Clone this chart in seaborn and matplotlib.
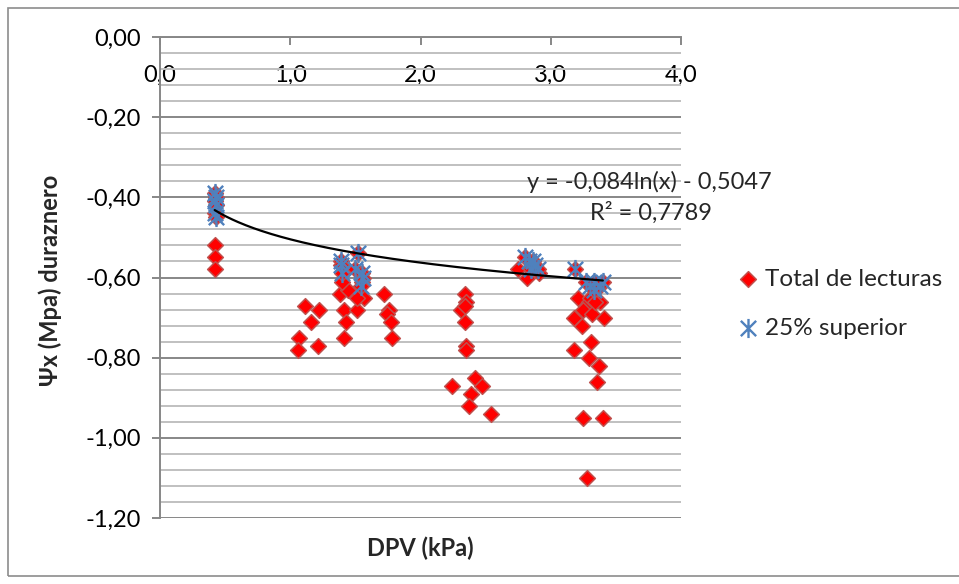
import numpy as np
import pandas as pd
import matplotlib
matplotlib.use("Agg")
import matplotlib.pyplot as plt
from matplotlib.path import Path
from matplotlib.patches import Rectangle
from matplotlib.ticker import MultipleLocator, FuncFormatter
import seaborn as sns

# --- data -------------------------------------------------------------
# upper 25 % of readings (stars)
sup_x = [0.42, 0.43, 0.42, 0.43, 0.42, 0.43,
         1.39, 1.39, 1.40, 1.50, 1.52, 1.55, 1.56, 1.54,
         2.80, 2.83, 2.86, 2.88, 2.85, 2.90,
         3.19, 3.27, 3.30, 3.33, 3.33, 3.38, 3.40]
sup_y = [-0.39, -0.40, -0.41, -0.42, -0.44, -0.45,
         -0.56, -0.57, -0.59, -0.58, -0.54, -0.59, -0.60, -0.62,
         -0.55, -0.56, -0.56, -0.57, -0.58, -0.58,
         -0.58, -0.61, -0.62, -0.61, -0.63, -0.62, -0.61]

# remaining readings (diamonds); all readings = these + the upper 25 %
rest_x = [0.42, 0.42, 0.42,
          1.11, 1.22, 1.16, 1.07, 1.06, 1.21,
          1.385, 1.44, 1.415, 1.51, 1.425, 1.415, 1.57, 1.515, 1.40, 1.55,
          1.72, 1.755, 1.74, 1.775, 1.785,
          2.34, 2.35, 2.31, 2.34, 2.34, 2.35, 2.35, 2.24, 2.415, 2.47, 2.39, 2.37, 2.545,
          2.75, 2.82, 2.91,
          3.21, 3.29, 3.38, 3.25, 3.32, 3.18, 3.41, 3.24, 3.31, 3.18, 3.29, 3.37,
          3.355, 3.25, 3.40, 3.28, 3.30, 3.34]
rest_y = [-0.52, -0.55, -0.58,
          -0.67, -0.68, -0.71, -0.75, -0.78, -0.77,
          -0.64, -0.63, -0.68, -0.68, -0.71, -0.75, -0.65, -0.65, -0.61, -0.61,
          -0.64, -0.68, -0.69, -0.71, -0.75,
          -0.64, -0.66, -0.68, -0.67, -0.71, -0.77, -0.78, -0.87, -0.85, -0.87, -0.89, -0.92, -0.94,
          -0.58, -0.60, -0.59,
          -0.65, -0.66, -0.66, -0.68, -0.69, -0.70, -0.70, -0.72, -0.76, -0.78, -0.80, -0.82,
          -0.86, -0.95, -0.95, -1.10, -0.65, -0.66]

# logarithmic trend fitted on the upper 25 %
trend_a = -0.084
trend_b = -0.5047
trend_r2 = 0.7789

series_names = ["Total de lecturas", "25% superior"]
x_label = "DPV (kPa)"
y_label = "\u03a8x (Mpa) duraznero"

# --- style ------------------------------------------------------------
sns.set_theme(style="white")
plt.rcParams["font.family"] = ["Lato", "DejaVu Sans"]
plt.rcParams["axes.unicode_minus"] = False

RED = "#FF0000"
RED_EDGE = "#C0504D"
BLUE = "#4F81BD"
GRID_MAJOR = "#878787"
GRID_MINOR = "#C0C0C0"

W, H = 959, 584
fig = plt.figure(figsize=(W / 100, H / 100), dpi=100)
ax = fig.add_axes([160 / W, 1 - 518 / H, (681 - 160) / W, (518 - 37) / H])

total = pd.DataFrame({"x": rest_x + sup_x, "y": rest_y + sup_y})
upper = pd.DataFrame({"x": sup_x, "y": sup_y})

# asterisk marker: an X crossed by a vertical stroke
star = Path([(-1, -1), (1, 1), (-1, 1), (1, -1), (0, -1.25), (0, 1.25)],
            [Path.MOVETO, Path.LINETO] * 3)

sns.scatterplot(data=total, x="x", y="y", ax=ax, marker="D", s=64,
                color=RED, edgecolor=RED_EDGE, linewidth=1.1,
                label=series_names[0], zorder=3)
sns.scatterplot(data=upper, x="x", y="y", ax=ax, marker=star, s=190,
                color=BLUE, edgecolor=BLUE, linewidth=1.7,
                label=series_names[1], zorder=4)

xs = np.linspace(min(sup_x), max(sup_x), 200)
trend = pd.DataFrame({"x": xs, "y": trend_a * np.log(xs) + trend_b})
sns.lineplot(data=trend, x="x", y="y", ax=ax, color="black", linewidth=1.6,
             zorder=5, legend=False)

# --- axes -------------------------------------------------------------
ax.set_xlim(0, 4)
ax.set_ylim(-1.2, 0)
ax.xaxis.set_major_locator(MultipleLocator(1.0))
ax.yaxis.set_major_locator(MultipleLocator(0.2))
ax.yaxis.set_minor_locator(MultipleLocator(0.04))
ax.xaxis.set_major_formatter(FuncFormatter(lambda v, p: f"{v:.1f}".replace(".", ",")))
ax.yaxis.set_major_formatter(FuncFormatter(
    lambda v, p: f"{v:.2f}".replace(".", ",").replace("-0,00", "0,00")))

ax.grid(False)
ax.yaxis.grid(True, which="major", color=GRID_MAJOR, linewidth=1.4, zorder=0)
ax.yaxis.grid(True, which="minor", color=GRID_MINOR, linewidth=1.4, zorder=0)
ax.set_axisbelow(True)

for side in ("right", "bottom"):
    ax.spines[side].set_visible(False)
for side in ("left", "top"):
    ax.spines[side].set_color(GRID_MAJOR)
    ax.spines[side].set_linewidth(1.4)

ax.xaxis.tick_top()
ax.tick_params(axis="x", which="major", top=True, bottom=False, labeltop=True,
               labelbottom=False, direction="in", length=6, width=1.4,
               color=GRID_MAJOR, pad=-35, labelsize=17, labelcolor="black")
ax.tick_params(axis="y", which="major", left=True, direction="out", length=6,
               width=1.4, color=GRID_MAJOR, pad=8, labelsize=17, labelcolor="black")
ax.tick_params(axis="y", which="minor", left=False)

ax.set_xlabel("")
ax.set_ylabel("")
fig.text(420 / W, 1 - 548 / H, x_label, ha="center", va="center",
         fontsize=17, fontweight="bold")
fig.text(50 / W, 1 - 280 / H, y_label, ha="center", va="center",
         rotation=90, fontsize=17, fontweight="bold")

# trend equation
fig.text(649 / W, 1 - 182 / H, "y = -0,084ln(x) - 0,5047", ha="center",
         va="center", fontsize=17)
fig.text(651 / W, 1 - 213 / H, "R\u00b2 = 0,7789", ha="center", va="center",
         fontsize=17)

leg = ax.legend(loc="upper left", bbox_to_anchor=(731 / W, 1 - 259 / H),
                bbox_transform=fig.transFigure, frameon=False, fontsize=17.5,
                handlelength=0.6, handletextpad=0.4, labelspacing=1.15,
                borderaxespad=0)

# chart-area border
fig.add_artist(Rectangle((8 / W, 8 / H), 1.2, 1 - 16 / H,
                         transform=fig.transFigure, fill=False,
                         edgecolor="#8C8C8C", linewidth=1.2))

fig.savefig("out.png", dpi=100)
